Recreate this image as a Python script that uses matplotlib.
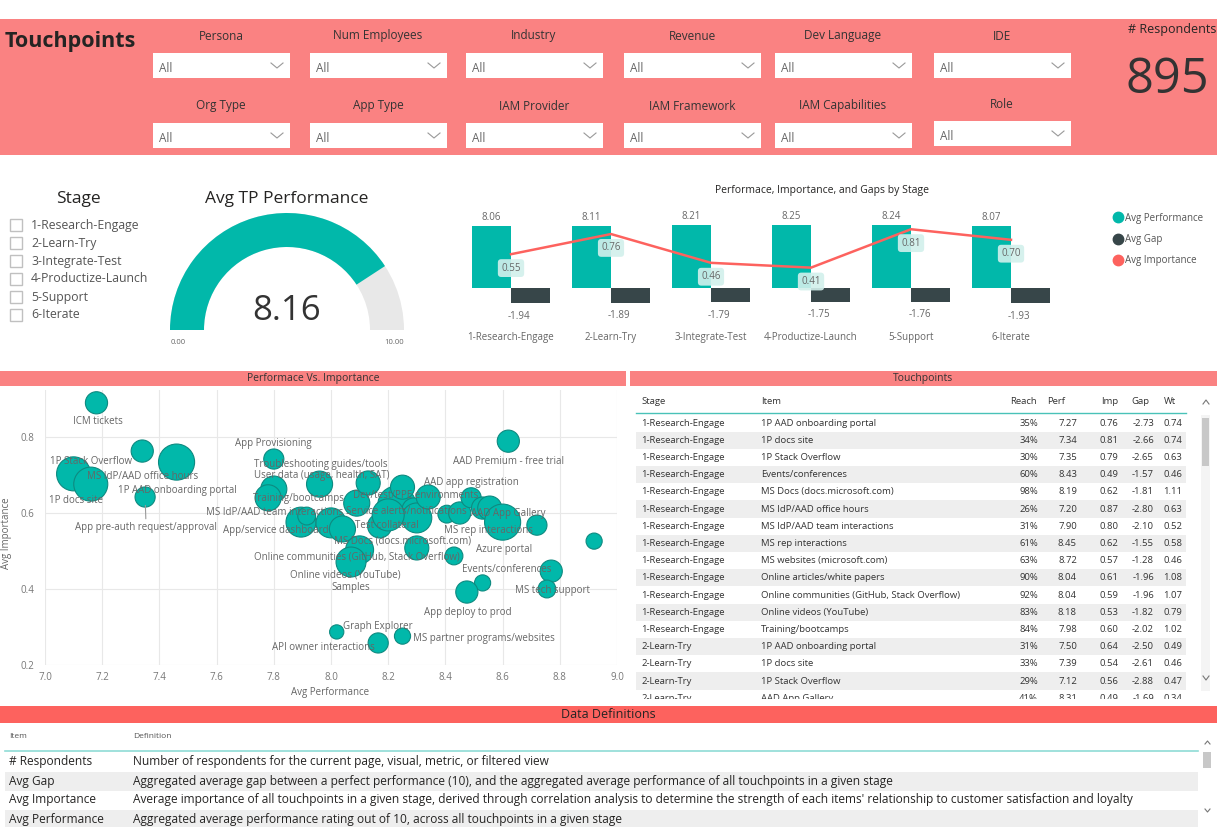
import numpy as np
import matplotlib.pyplot as plt
from matplotlib import font_manager
from matplotlib.patches import Rectangle, Wedge
from matplotlib.lines import Line2D

plt.rcParams['font.family'] = ['Open Sans', 'DejaVu Sans']

W, H = 1217, 827

# colours
PINK = '#FA8282'
RED = '#FD625E'
TEAL = '#01B8AA'
DARK = '#374649'
GREY_TXT = '#666666'

# ---------------- data ----------------
respondents = 895
avg_tp_perf = 8.16
gauge_max = 10.0

slicers_row1 = ['Persona', 'Num Employees', 'Industry', 'Revenue', 'Dev Language', 'IDE']
slicers_row2 = ['Org Type', 'App Type', 'IAM Provider', 'IAM Framework', 'IAM Capabilities', 'Role']

stages = ['1-Research-Engage', '2-Learn-Try', '3-Integrate-Test',
          '4-Productize-Launch', '5-Support', '6-Iterate']
stage_perf = [8.06, 8.11, 8.21, 8.25, 8.24, 8.07]
stage_gap = [-1.94, -1.89, -1.79, -1.75, -1.76, -1.93]
stage_imp = [0.55, 0.76, 0.46, 0.41, 0.81, 0.70]

# touchpoint bubbles (perf, importance, reach %)
tp_names = ['ICM tickets', 'MS IdP/AAD office hours', '1P AAD onboarding portal', '1P docs site',
            '1P Stack Overflow', 'App pre-auth request/approval', 'App Provisioning',
            'Training/bootcamps', '', 'App/service dashboard', 'MS IdP/AAD team interactions',
            'Troubleshooting guides/tools', '', 'Online communities (GitHub, Stack Overflow)',
            'Online videos (YouTube)', 'Samples', '', 'User data (usage, health, SAT)',
            'Test collateral', 'MS Docs (docs.microsoft.com)', 'Dev/test/PPE environments',
            'Service alerts/notifications', '', '', '', '', '', '', 'AAD app registration',
            'MS rep interactions', 'AAD App Gallery', 'Azure portal', '', 'AAD Premium - free trial',
            '', 'Events/conferences', 'MS tech support', '', 'App deploy to prod', 'Graph Explorer',
            'API owner interactions', 'MS partner programs/websites', '']
tp_perf = [7.18, 7.34, 7.46, 7.10, 7.16, 7.35, 7.80, 7.80, 7.78, 7.895, 7.915, 7.96, 8.00, 8.04,
           8.10, 8.07, 8.09, 8.13, 8.17, 8.23, 8.25, 8.29, 8.30, 8.30, 8.34, 8.405, 8.45, 8.43,
           8.49, 8.53, 8.555, 8.60, 8.72, 8.62, 8.92, 8.77, 8.755, 8.53, 8.475, 8.02, 8.165,
           8.25, 8.20]
tp_imp = [0.89, 0.763, 0.734, 0.703, 0.676, 0.642, 0.742, 0.663, 0.64, 0.576, 0.592, 0.676,
          0.574, 0.558, 0.503, 0.471, 0.626, 0.679, 0.566, 0.621, 0.668, 0.608, 0.587, 0.508,
          0.642, 0.597, 0.60, 0.487, 0.64, 0.613, 0.613, 0.576, 0.568, 0.789, 0.526, 0.447,
          0.40, 0.416, 0.392, 0.287, 0.258, 0.276, 0.595]
tp_reach = [34, 34, 90, 80, 80, 28, 28, 47, 47, 62, 22, 47, 62, 47, 54, 62, 47, 40, 40, 100,
            40, 40, 62, 40, 40, 22, 34, 22, 28, 34, 40, 90, 28, 34, 18, 34, 22, 18, 34, 14,
            28, 18, 71]

# label offsets from bubble centre, in pixels (right, down)
label_offsets = {
    'ICM tickets': (1, 19), '1P Stack Overflow': (0, -23), 'MS IdP/AAD office hours': (0, 25),
    '1P AAD onboarding portal': (1, 28), '1P docs site': (2, 27),
    'App pre-auth request/approval': (1, 30), 'App Provisioning': (0, -16),
    'Troubleshooting guides/tools': (1, -20), 'User data (usage, health, SAT)': (-46, -7),
    'Training/bootcamps': (25, 9), 'MS IdP/AAD team interactions': (-32, -4),
    'Service alerts/notifications': (-8, 2), 'AAD App Gallery': (19, 5),
    'App/service dashboard': (-25, 8), 'Test collateral': (7, 0),
    'MS Docs (docs.microsoft.com)': (6, 36), 'Online communities (GitHub, Stack Overflow)': (14, 28),
    'Online videos (YouTube)': (-14, 25), 'Samples': (0, 25), 'Dev/test/PPE environments': (13, 8),
    'AAD app registration': (0, -15), 'MS rep interactions': (6, 22), 'Azure portal': (1, 27),
    'Events/conferences': (-44, -2), 'MS tech support': (6, 2), 'App deploy to prod': (1, 20),
    'Graph Explorer': (41, -5), 'MS partner programs/websites': (81, 2),
    'API owner interactions': (-55, 5), 'AAD Premium - free trial': (0, 20),
}

# touchpoints table
tbl_stage = ['1-Research-Engage'] * 13 + ['2-Learn-Try'] * 4
tbl_item = ['1P AAD onboarding portal', '1P docs site', '1P Stack Overflow', 'Events/conferences',
            'MS Docs (docs.microsoft.com)', 'MS IdP/AAD office hours', 'MS IdP/AAD team interactions',
            'MS rep interactions', 'MS websites (microsoft.com)', 'Online articles/white papers',
            'Online communities (GitHub, Stack Overflow)', 'Online videos (YouTube)',
            'Training/bootcamps', '1P AAD onboarding portal', '1P docs site', '1P Stack Overflow',
            'AAD App Gallery']
tbl_reach = [35, 34, 30, 60, 98, 26, 31, 61, 63, 90, 92, 83, 84, 31, 33, 29, 41]
tbl_perf = [7.27, 7.34, 7.35, 8.43, 8.19, 7.20, 7.90, 8.45, 8.72, 8.04, 8.04, 8.18, 7.98,
            7.50, 7.39, 7.12, 8.31]
tbl_imp = [0.76, 0.81, 0.79, 0.49, 0.62, 0.87, 0.80, 0.62, 0.57, 0.61, 0.59, 0.53, 0.60,
           0.64, 0.54, 0.56, 0.49]
tbl_gap = [-2.73, -2.66, -2.65, -1.57, -1.81, -2.80, -2.10, -1.55, -1.28, -1.96, -1.96, -1.82,
           -2.02, -2.50, -2.61, -2.88, -1.69]
tbl_wt = [0.74, 0.74, 0.63, 0.46, 1.11, 0.63, 0.52, 0.58, 0.46, 1.08, 1.07, 0.79, 1.02,
          0.49, 0.46, 0.47, 0.34]

def_items = ['# Respondents', 'Avg Gap', 'Avg Importance', 'Avg Performance']
def_text = [
    'Number of respondents for the current page, visual, metric, or filtered view',
    'Aggregated average gap between a perfect performance (10), and the aggregated average '
    'performance of all touchpoints in a given stage',
    "Average importance of all touchpoints in a given stage, derived through correlation analysis "
    "to determine the strength of each items' relationship to customer satisfaction and loyalty",
    'Aggregated average performance rating out of 10, across all touchpoints in a given stage',
]

# ---------------- figure ----------------
fig = plt.figure(figsize=(W / 100, H / 100), dpi=100)


def px_axes(x0, y0, x1, y1):
    return fig.add_axes([x0 / W, 1 - y1 / H, (x1 - x0) / W, (y1 - y0) / H])


bg = px_axes(0, 0, W, H)
bg.set_xlim(0, W)
bg.set_ylim(H, 0)
bg.axis('off')

# header band with slicers
bg.add_patch(Rectangle((0, 19), W, 136, color=PINK, lw=0))
bg.text(5, 42, 'Touchpoints', fontsize=15.5, fontweight='bold', color='#252423', va='center')
box_x = [153, 310, 466, 624, 775, 934]
for row, (names, ly, by) in enumerate([(slicers_row1, 36, 53), (slicers_row2, 106, 123)]):
    for i, name in enumerate(names):
        dy = -2 if (row == 1 and i == 5) else 0
        x0 = box_x[i]
        bg.text(x0 + 68, ly + dy, name, fontsize=8.5, color='#333333', ha='center', va='center')
        bg.add_patch(Rectangle((x0, by + dy), 137, 25, color='white', lw=0))
        bg.text(x0 + 6, by + dy + 15, 'All', fontsize=8.5, color='#666666', va='center')
        bg.plot([x0 + 118, x0 + 124, x0 + 130], [by + dy + 10, by + dy + 15, by + dy + 10],
                color='#999999', lw=0.8)
bg.text(1172, 30, '# Respondents', fontsize=9, color='#252423', ha='center', va='center')
bg.text(1167, 80, f'{respondents}', fontsize=35, color='#333333', ha='center', va='center')

# stage slicer
bg.text(78, 199, 'Stage', fontsize=12.5, color='#252423', ha='center', va='center')
for i, s in enumerate(stages):
    y = 225 + 18 * i
    bg.add_patch(Rectangle((10, y - 6), 12, 12, fill=False, ec='#C0C0C0', lw=1))
    bg.text(31, y, s, fontsize=8.8, color='#555555', va='center')

# gauge
bg.text(287, 199, 'Avg TP Performance', fontsize=12.5, color='#252423', ha='center', va='center')
gax = px_axes(160, 170, 415, 350)
gax.set_xlim(-127, 128)
gax.set_ylim(-20, 160)
gax.axis('off')
frac = avg_tp_perf / gauge_max
gax.add_patch(Wedge((0, 0), 117, 0, 180, width=34, color='#E8E8E8', lw=0))
gax.add_patch(Wedge((0, 0), 117, 180 - 180 * frac, 180, width=34, color=TEAL, lw=0))
gax.text(0, 19, f'{avg_tp_perf:.2f}', fontsize=25, color='#333333', ha='center', va='center')
gax.text(-109, -13, '0.00', fontsize=5.5, color=GREY_TXT, ha='center', va='center')
gax.text(107, -13, f'{gauge_max:.2f}', fontsize=5.5, color=GREY_TXT, ha='center', va='center')

# bar + line chart by stage
bg.text(822, 191, 'Performace, Importance, and Gaps by Stage', fontsize=7.5, color='#252423',
        ha='center', va='center')
bax = px_axes(461, 205, 1061, 325)
bax.patch.set_visible(False)
x = np.arange(len(stages))
bw = 0.39
bax.bar(x - bw / 2, stage_perf, bw, color=TEAL)
bax.bar(x + bw / 2, stage_gap, bw, color=DARK)
bax.set_xlim(-0.5, 5.5)
bax.set_ylim(-4.8, 10.8)
bax.set_yticks([])
bax.set_xticks(x)
bax.set_xticklabels(stages, fontsize=7, color=GREY_TXT)
bax.tick_params(axis='x', length=0, pad=5)
for sp in bax.spines.values():
    sp.set_visible(False)
for xi, v in zip(x, stage_perf):
    bax.annotate(f'{v:.2f}', (xi - bw / 2, v), xytext=(0, 2), textcoords='offset points',
                 ha='center', va='bottom', fontsize=7, color=GREY_TXT)
for xi, v in zip(x, stage_gap):
    bax.annotate(f'{v:.2f}', (xi + bw / 2, v), xytext=(-8, -9.5), textcoords='offset points',
                 ha='center', va='center', fontsize=7, color=GREY_TXT)
lax = bax.twinx()
lax.plot(x, stage_imp, color=RED, lw=1.8)
lax.set_ylim(-0.1875, 1.0625)
lax.set_yticks([])
for sp in lax.spines.values():
    sp.set_visible(False)
for xi, v in zip(x, stage_imp):
    lax.annotate(f'{v:.2f}', (xi, v), xytext=(0, -10), textcoords='offset points', ha='center',
                 va='center', fontsize=7, color=GREY_TXT,
                 bbox=dict(boxstyle='round,pad=0.35', fc='#D2F0EC', ec='none', alpha=0.9))
handles = [Line2D([], [], marker='o', ls='', color=c, markersize=7.5) for c in (TEAL, DARK, RED)]
fig.legend(handles, ['Avg Performance', 'Avg Gap', 'Avg Importance'], loc='upper left',
           bbox_to_anchor=(1104 / W, 1 - 204 / H), frameon=False, fontsize=7,
           handletextpad=0.3, labelspacing=1.05, handlelength=1.0, labelcolor='#555555')

# section bands
bg.add_patch(Rectangle((0, 371), 626, 15, color=PINK, lw=0))
bg.add_patch(Rectangle((630, 371), W - 630, 15, color=PINK, lw=0))
bg.text(313, 379, 'Performace Vs. Importance', fontsize=7.5, color='#333333', ha='center', va='center')
bg.text(923, 379, 'Touchpoints', fontsize=7.5, color='#333333', ha='center', va='center')

# scatter: performance vs importance
sax = px_axes(45, 390, 617, 665)
sax.patch.set_visible(False)
sax.set_xlim(7.0, 9.0)
sax.set_ylim(0.2, 0.2 + 275 / 380)
sax.set_xticks(np.round(np.arange(7.0, 9.01, 0.2), 1))
sax.set_xticklabels([f'{t:.1f}' for t in np.arange(7.0, 9.01, 0.2)])
sax.set_yticks([0.2, 0.4, 0.6, 0.8])
sax.set_yticklabels(['0.2', '0.4', '0.6', '0.8'])
sax.tick_params(length=0, labelsize=7, labelcolor='#777777')
sax.tick_params(axis='x', pad=5)
sax.tick_params(axis='y', pad=8)
sax.grid(True, color='#E8E8E8', lw=0.8)
sax.set_axisbelow(True)
for sp in sax.spines.values():
    sp.set_visible(False)
sax.scatter(tp_perf, tp_imp, s=np.array(tp_reach) * 7.5, c=TEAL, edgecolors='#0E8A80',
            linewidths=0.8, zorder=3)
for name, (dx, dy) in label_offsets.items():
    k = tp_names.index(name)
    kw = {}
    if name == 'App pre-auth request/approval':
        kw['arrowprops'] = dict(arrowstyle='-', color='#999999', lw=0.8, shrinkA=0, shrinkB=6)
    sax.annotate(name, (tp_perf[k], tp_imp[k]), xytext=(dx * 0.72, -dy * 0.72),
                 textcoords='offset points', ha='center', va='center', fontsize=7,
                 color='#666666', zorder=4, **kw)
bg.text(330, 693, 'Avg Performance', fontsize=7, color='#666666', ha='center', va='center')
bg.text(7, 533, 'Avg Importance', fontsize=7, color='#666666', ha='center', va='center',
        rotation=90)

# touchpoints table
tax = px_axes(630, 386, W, 699)
tax.set_xlim(630, W)
tax.set_ylim(699, 386)
tax.axis('off')
tfs = 6.8
hdr_y = 401
tax.text(641, hdr_y, 'Stage', fontsize=tfs, color='#333333', va='center')
tax.text(761, hdr_y, 'Item', fontsize=tfs, color='#333333', va='center')
tax.text(1037, hdr_y, 'Reach', fontsize=tfs, color='#333333', va='center', ha='right')
tax.text(1047, hdr_y, 'Perf', fontsize=tfs, color='#333333', va='center')
tax.text(1118, hdr_y, 'Imp', fontsize=tfs, color='#333333', va='center', ha='right')
tax.text(1149, hdr_y, 'Gap', fontsize=tfs, color='#333333', va='center', ha='right')
tax.text(1176, hdr_y, 'Wt', fontsize=tfs, color='#333333', va='center', ha='right')
tax.plot([636, 1186], [413, 413], color='#49C2B8', lw=1)
row_h = 17.2
for i in range(len(tbl_item)):
    y = 423 + row_h * i
    if i % 2 == 1:
        tax.add_patch(Rectangle((636, y - row_h / 2), 550, row_h, color='#EEEEEE', lw=0))
    cells = [(641, tbl_stage[i], 'left'), (761, tbl_item[i], 'left'),
             (1038, f'{tbl_reach[i]}%', 'right'), (1077, f'{tbl_perf[i]:.2f}', 'right'),
             (1118, f'{tbl_imp[i]:.2f}', 'right'), (1154, f'{tbl_gap[i]:.2f}', 'right'),
             (1182, f'{tbl_wt[i]:.2f}', 'right')]
    for cx, txt, ha in cells:
        tax.text(cx, y, txt, fontsize=tfs, color='#333333', ha=ha, va='center', clip_on=True)
# scrollbar
tax.add_patch(Rectangle((1201, 415), 9, 276, color='#F4F4F4', lw=0))
tax.add_patch(Rectangle((1202, 418), 7, 48, color='#C8C8C8', lw=0))
tax.plot([1203, 1206, 1209], [404, 400, 404], color='#777777', lw=0.8)
tax.plot([1203, 1206, 1209], [676, 680, 676], color='#777777', lw=0.8)

# data definitions
bg.add_patch(Rectangle((0, 706), W, 17, color=RED, lw=0))
bg.text(W / 2, 715, 'Data Definitions', fontsize=9, color='#252423', ha='center', va='center')
names_available = {f.name for f in font_manager.fontManager.ttflist}
dfam = 'Liberation Sans Narrow' if 'Liberation Sans Narrow' in names_available else 'Open Sans'
dfs = 9.2 if dfam != 'Open Sans' else 8.6
bg.text(9, 737, 'Item', fontsize=6, color='#555555', va='center')
bg.text(133, 737, 'Definition', fontsize=6, color='#555555', va='center')
bg.plot([5, 1198], [751, 751], color='#8FDCD5', lw=1.2)
for i, (it, dt) in enumerate(zip(def_items, def_text)):
    y = 762 + 19 * i
    if i % 2 == 1:
        bg.add_patch(Rectangle((5, y - 9.5), 1193, 19, color='#EEEEEE', lw=0))
    bg.text(9, y, it, fontsize=dfs, color='#252423', va='center', family=dfam)
    bg.text(133, y, dt, fontsize=dfs, color='#252423', va='center', family=dfam)
bg.add_patch(Rectangle((1203, 752), 8, 16, color='#C8C8C8', lw=0))
bg.plot([1205, 1207.5, 1210], [744, 741, 744], color='#777777', lw=0.8)
bg.plot([1205, 1207.5, 1210], [809, 812, 809], color='#777777', lw=0.8)

fig.savefig('out.png', dpi=100)
